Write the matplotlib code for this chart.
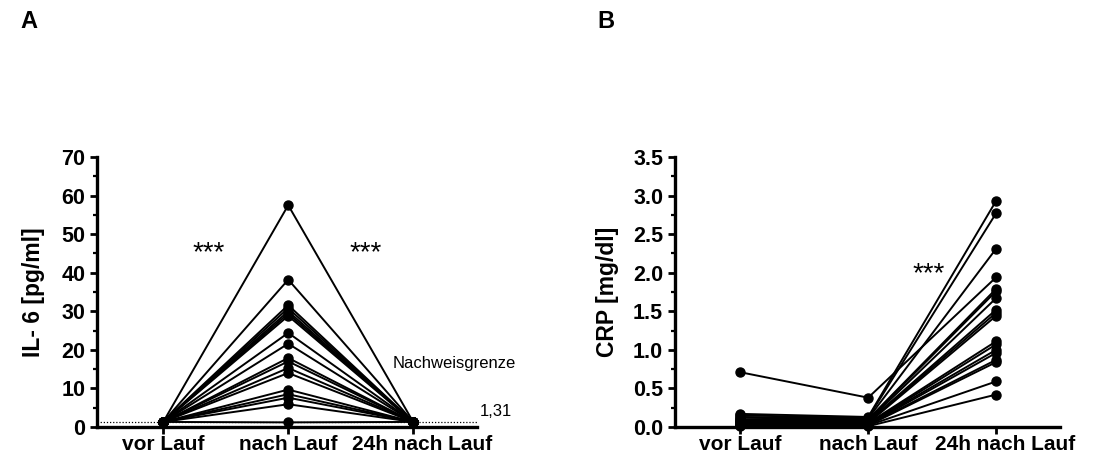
import numpy as np
import matplotlib.pyplot as plt
import matplotlib.transforms as mtransforms
from matplotlib.ticker import MultipleLocator

plt.rcParams['font.family'] = ['Liberation Sans', 'DejaVu Sans']

# time points
zeitpunkte = ['vor Lauf', 'nach Lauf', '24h nach Lauf']

# IL-6 [pg/ml] per runner (values below the detection limit set to 1.31)
il6_vor = [1.31] * 18
il6_nach = [57.5, 38.2, 31.6, 30.8, 30.0, 29.4, 28.8, 24.4, 21.6,
            17.9, 17.0, 15.3, 14.0, 9.7, 8.5, 7.6, 5.9, 1.2]
il6_24h = [1.31] * 18
nachweisgrenze = 1.31

# CRP [mg/dl] per runner
crp_vor = [0.71, 0.17, 0.15, 0.13, 0.12, 0.10, 0.09, 0.08, 0.07,
           0.06, 0.05, 0.05, 0.04, 0.03, 0.03, 0.02, 0.02, 0.01]
crp_nach = [0.38, 0.13, 0.12, 0.11, 0.10, 0.09, 0.08, 0.07, 0.06,
            0.05, 0.05, 0.04, 0.04, 0.03, 0.03, 0.02, 0.02, 0.01]
crp_24h = [1.94, 2.93, 2.77, 2.31, 1.79, 1.76, 1.67, 1.52, 1.48,
           1.44, 1.11, 1.07, 1.00, 0.96, 0.87, 0.84, 0.59, 0.42]


def style_axis(ax, fig):
    ax.spines['top'].set_visible(False)
    ax.spines['right'].set_visible(False)
    ax.spines['left'].set_linewidth(2.4)
    ax.spines['bottom'].set_linewidth(2.4)
    ax.tick_params(axis='both', which='major', direction='out', width=2, length=5,
                   labelsize=15.5)
    ax.tick_params(axis='x', which='major', labelsize=15, pad=1)
    ax.tick_params(axis='y', which='minor', direction='out', width=1.6, length=3)
    ax.set_xticks(range(len(zeitpunkte)))
    ax.set_xticklabels(zeitpunkte, fontweight='bold')
    # nudge the last label right so it doesn't crowd the middle one
    shift = mtransforms.ScaledTranslation(9 / 100, 0, fig.dpi_scale_trans)
    last = ax.get_xticklabels()[-1]
    last.set_transform(last.get_transform() + shift)


def plot_paired(ax, a, b, c):
    x = np.arange(3)
    for v1, v2, v3 in zip(a, b, c):
        ax.plot(x, [v1, v2, v3], color='black', lw=1.4, marker='o',
                markersize=6.5, clip_on=False, zorder=3)


fig = plt.figure(figsize=(11.11, 4.58), dpi=100)

# Panel A: IL-6
ax1 = fig.add_axes([0.0873, 0.0677, 0.342, 0.5895])
plot_paired(ax1, il6_vor, il6_nach, il6_24h)
ax1.axhline(nachweisgrenze, color='black', lw=0.9, ls=(0, (1, 1.5)), zorder=1)
ax1.set_xlim(-0.53, 2.51)
ax1.set_ylim(0, 70)
ax1.yaxis.set_minor_locator(MultipleLocator(5))
style_axis(ax1, fig)
ax1.set_yticks(range(0, 71, 10))
ax1.set_yticklabels([str(v) for v in range(0, 71, 10)], fontweight='bold')
ax1.set_ylabel('IL- 6 [pg/ml]', fontsize=16.5, fontweight='bold', labelpad=12)
ax1.text(0.36, 45.0, '***', fontsize=20, ha='center', va='center')
ax1.text(1.62, 45.0, '***', fontsize=20, ha='center', va='center')
ax1.text(2.82, 16.5, 'Nachweisgrenze', fontsize=12, ha='right', va='center',
         clip_on=False)
ax1.text(2.79, 4.0, '1,31', fontsize=12, ha='right', va='center', clip_on=False)
fig.text(0.018, 0.952, 'A', fontsize=17, fontweight='bold', va='center')

# Panel B: CRP
ax2 = fig.add_axes([0.6076, 0.0677, 0.3465, 0.5895])
plot_paired(ax2, crp_vor, crp_nach, crp_24h)
ax2.set_xlim(-0.51, 2.5)
ax2.set_ylim(0, 3.5)
ax2.yaxis.set_minor_locator(MultipleLocator(0.25))
style_axis(ax2, fig)
yt = np.arange(0, 3.51, 0.5)
ax2.set_yticks(yt)
ax2.set_yticklabels(['%.1f' % v for v in yt], fontweight='bold')
ax2.set_ylabel('CRP [mg/dl]', fontsize=16.5, fontweight='bold', labelpad=10)
ax2.text(1.47, 1.98, '***', fontsize=20, ha='center', va='center')
fig.text(0.538, 0.952, 'B', fontsize=17, fontweight='bold', va='center')

fig.savefig('out.png', dpi=100)
